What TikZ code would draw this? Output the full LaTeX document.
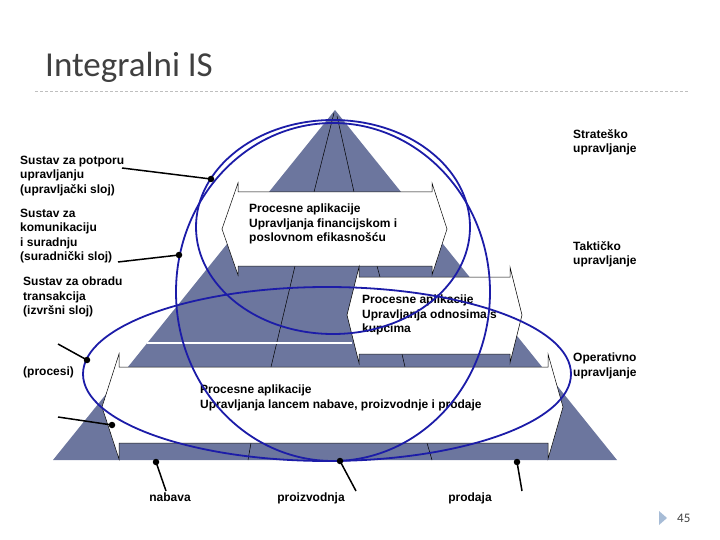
\documentclass[tikz,border=0pt]{standalone}
\usepackage{fontspec}
\setmainfont{Liberation Sans}
\newfontfamily\titlefont{Carlito}
\usetikzlibrary{positioning,calc}
\definecolor{pyramidcolor}{HTML}{6C769E}
\definecolor{ringcolor}{HTML}{1C1CA8}
\definecolor{titlecolor}{HTML}{404040}
\definecolor{rulecolor}{HTML}{BFBFBF}
\definecolor{markcolor}{HTML}{A7BCD6}
\tikzset{
  labeltext/.style={
    anchor=north west,
    align=left,
    inner sep=0pt,
    font=\fontsize{12}{14.4}\selectfont\bfseries
  },
  basetext/.style={
    anchor=base,
    inner sep=0pt,
    font=\fontsize{12}{14.4}\selectfont\bfseries
  },
  bandshape/.style={draw=black, fill=white, line width=0.5pt},
  divider/.style={draw=black, line width=0.5pt},
  ring/.style={draw=ringcolor, line width=1.8pt},
  pointer/.style={draw=black, line width=1.5pt},
  pointdot/.style={circle, fill=black, inner sep=0pt, minimum size=6.5pt}
}

\begin{document}
\begin{tikzpicture}[x=1pt, y=-1pt]
  \useasboundingbox (0,0) rectangle (720,540);

  % title and rule
  \node[anchor=base west, inner sep=0pt, text=titlecolor,
        font=\titlefont\fontsize{35}{40}\selectfont] (title) at (45,77) {Integralni IS};
  \draw[rulecolor, line width=0.8pt, dash pattern=on 3pt off 2pt] (35,91) -- (688,91);

  % pyramid
  \fill[pyramidcolor] (335,110) -- (617,460) -- (53,460) -- cycle;
  \draw[divider] (334,113) -- (314,192);
  \draw[divider] (337,116) -- (354,192);
  \draw[divider] (295,266) -- (271,367);
  \draw[divider] (377,266) -- (380,277);
  \draw[divider] (402,354) -- (405,367);
  \draw[divider] (251,443) -- (248,460);
  \draw[divider] (427,443) -- (432,460);
  \draw[white, line width=2.5pt] (147,343) -- (352,343);

  % process bands
  \draw[bandshape] (238,183) -- (238,192) -- (432,192) -- (432,183) -- (447,229)
    -- (432,275) -- (432,266) -- (238,266) -- (238,275) -- (222,229) -- cycle;
  \draw[bandshape] (359,267) -- (359,277) -- (510,277) -- (510,267) -- (522,315)
    -- (510,363) -- (510,354) -- (359,354) -- (359,363) -- (347,315) -- cycle;
  \draw[bandshape] (119,354) -- (119,367) -- (548,367) -- (548,354) -- (563,407)
    -- (548,459) -- (548,443) -- (119,443) -- (119,459) -- (102,407) -- cycle;

  \node[labeltext] (financ) at (249,204) {Procesne aplikacije\\Upravljanja financijskom i\\poslovnom efikasnošću};
  \node[labeltext] (kupci) at (362,295) {Procesne aplikacije\\Upravljanja odnosima s\\kupcima};
  \node[labeltext] (lanac) at (200,385) {Procesne aplikacije\\Upravljanja lancem nabave, proizvodnje i prodaje};

  % levels
  \node[labeltext] (strat) at (573,129) {Strateško\\upravljanje};
  \node[labeltext] (takt) at (573,241) {Taktičko\\upravljanje};
  \node[labeltext] (oper) at (573,353) {Operativno\\upravljanje};

  % systems
  \node[labeltext] (potpora) at (20,156) {Sustav za potporu\\upravljanju\\(upravljački sloj)};
  \node[labeltext] (suradnja) at (20,209) {Sustav za\\komunikaciju\\i suradnju\\(suradnički sloj)};
  \node[labeltext] (obrada) at (23,277) {Sustav za obradu\\transakcija\\(izvršni sloj)};
  \node[labeltext] (procesi) at (23,367) {(procesi)};

  \node[basetext] (nabava) at (170,501) {nabava};
  \node[basetext] (proizvodnja) at (311,501) {proizvodnja};
  \node[basetext] (prodaja) at (470,501) {prodaja};

  % rings
  \draw[ring] (333,292) ellipse [x radius=157pt, y radius=169pt];
  \draw[ring] (333,227) ellipse [x radius=137pt, y radius=107pt];
  \draw[ring] (327,374) ellipse [x radius=244pt, y radius=87pt];

  % pointers
  \node[pointdot] (potporaDot) at (211,179) {};
  \node[pointdot] (suradnjaDot) at (179,255) {};
  \node[pointdot] (procesiDotA) at (87,360) {};
  \node[pointdot] (procesiDotB) at (112,425) {};
  \node[pointdot] (nabavaDot) at (156,462) {};
  \node[pointdot] (proizvodnjaDot) at (340,461) {};
  \node[pointdot] (prodajaDot) at (517,462) {};
  \coordinate (potporaEnd) at (122,168);
  \coordinate (suradnjaEnd) at (118,262);
  \coordinate (procesiEndA) at (58,344);
  \coordinate (procesiEndB) at (58,417);
  \coordinate (nabavaEnd) at (166,491);
  \coordinate (proizvodnjaEnd) at (356,491);
  \coordinate (prodajaEnd) at (522,491);
  \draw[pointer] (potporaEnd) -- (potporaDot.center);
  \draw[pointer] (suradnjaEnd) -- (suradnjaDot.center);
  \draw[pointer] (procesiEndA) -- (procesiDotA.center);
  \draw[pointer] (procesiEndB) -- (procesiDotB.center);
  \draw[pointer] (nabavaEnd) -- (nabavaDot.center);
  \draw[pointer] (proizvodnjaEnd) -- (proizvodnjaDot.center);
  \draw[pointer] (prodajaEnd) -- (prodajaDot.center);

  % page number
  \fill[markcolor] (659,511) -- (667,518) -- (659,525) -- cycle;
  \node[anchor=west, inner sep=0pt, text=titlecolor,
        font=\titlefont\fontsize{13}{15}\selectfont] (pagenum) at (677,518) {45};
\end{tikzpicture}
\end{document}
